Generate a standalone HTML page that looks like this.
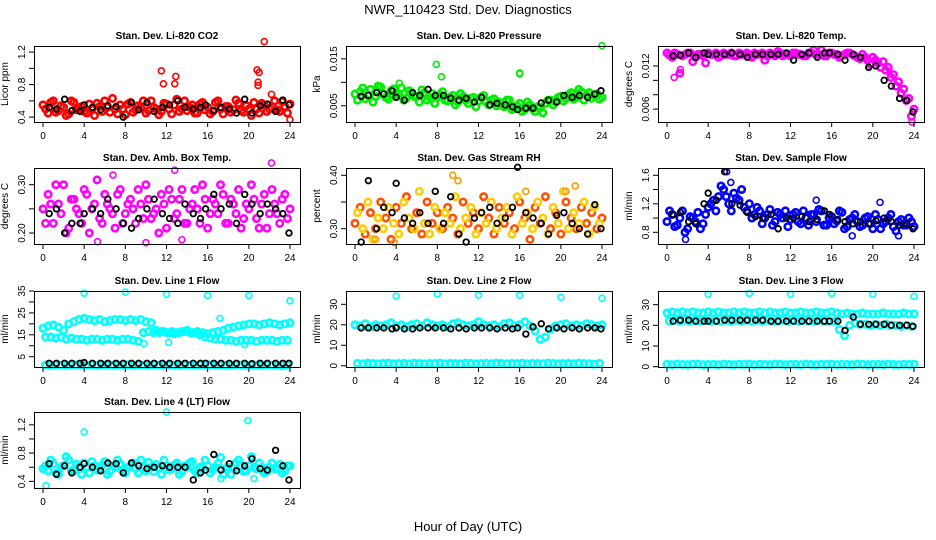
<!DOCTYPE html>
<html><head><meta charset="utf-8"><style>
body{margin:0;background:#fff}
svg{display:block;font-family:"Liberation Sans",sans-serif}
</style></head><body>
<svg id="c" width="936" height="540" viewBox="0 0 936 540" xmlns="http://www.w3.org/2000/svg">
<text x="468" y="14" font-size="13" text-anchor="middle">NWR_110423  Std. Dev. Diagnostics</text>
<text x="468" y="531" font-size="13" text-anchor="middle">Hour of Day (UTC)</text>
</svg>
<script>
const hoursA = Array.from({length:49},(_, i)=>i*0.5);
const hoursB = Array.from({length:48},(_, i)=>i*0.5+0.25);
const blackHours = [0.6,1.3,2.1,2.8,3.6,4.0,4.8,5.6,6.3,7.1,7.8,8.6,9.3,10.1,10.8,11.6,12.3,13.1,13.8,14.6,15.3,15.8,16.6,17.3,18.1,18.8,19.6,20.3,21.1,21.8,22.6,23.3,23.9];
const xTicks = [0,4,8,12,16,20,24];

const co2A=[0.55,0.45,0.6,0.48,0.52,0.44,0.58,0.5,0.47,0.56,0.42,0.53,0.6,0.46,0.5,0.55,0.43,0.58,0.49,0.52,0.45,0.6,0.5,0.47,0.56,0.44,0.62,0.5,0.48,0.55,0.45,0.58,0.52,0.47,0.6,0.44,0.53,0.49,0.57,0.46,0.5,0.58,0.45,0.55,0.5,0.6,0.47,0.53,0.56];
const co2B=[0.5,0.58,0.46,0.54,0.42,0.6,0.49,0.53,0.45,0.5,0.57,0.47,0.52,0.63,0.44,0.5,0.56,0.46,0.54,0.6,0.48,0.52,0.43,0.57,0.5,0.55,0.47,0.6,0.52,0.45,0.56,0.49,0.44,0.58,0.5,0.53,0.46,0.61,0.48,0.54,0.42,0.5,0.57,0.47,0.52,0.49,0.59,0.45];
const co2Out=[[11.5,0.97],[11.7,0.81],[12.9,0.9],[12.8,0.81],[20.8,0.98],[21,0.95],[20.9,0.83],[20.9,0.79],[21.5,1.33],[22.2,0.68],[24,0.37]];
const co2Black=[0.52,0.5,0.62,0.48,0.47,0.55,0.52,0.49,0.54,0.53,0.4,0.58,0.49,0.58,0.47,0.52,0.55,0.6,0.52,0.5,0.52,0.55,0.48,0.52,0.5,0.45,0.62,0.45,0.54,0.56,0.47,0.61,0.55];

const presA=[0.0075,0.008,0.0065,0.0085,0.007,0.009,0.0068,0.0082,0.0072,0.0088,0.0066,0.0078,0.007,0.0084,0.0062,0.0076,0.0068,0.008,0.006,0.0072,0.0058,0.007,0.0055,0.0068,0.006,0.0072,0.0052,0.0065,0.0058,0.0048,0.0062,0.0045,0.0055,0.0042,0.0052,0.0038,0.0046,0.0055,0.0062,0.0058,0.007,0.0065,0.0078,0.0068,0.008,0.0072,0.0066,0.0075,0.0068];
const presB=[0.0062,0.0088,0.0072,0.0058,0.0092,0.0075,0.0064,0.0086,0.0074,0.0062,0.0082,0.007,0.0058,0.0078,0.0068,0.0055,0.0074,0.0062,0.0068,0.0052,0.0076,0.0062,0.0066,0.0048,0.0068,0.0058,0.0062,0.005,0.0056,0.0062,0.0042,0.005,0.0038,0.0058,0.0044,0.0048,0.0035,0.0062,0.0052,0.0068,0.006,0.0074,0.0064,0.0085,0.0062,0.0078,0.0072,0.0064];
const presOut=[[4.3,0.0098],[7.9,0.0138],[8.4,0.0112],[16,0.012],[16,0.0118],[24,0.0178]];
const presBlack=[0.007,0.0072,0.0078,0.0075,0.0082,0.0068,0.0062,0.0078,0.0072,0.0085,0.0072,0.0072,0.0066,0.0062,0.0066,0.0058,0.0068,0.0052,0.0055,0.0052,0.0048,0.0042,0.0045,0.0045,0.0056,0.0062,0.0058,0.0072,0.0068,0.0072,0.0068,0.0075,0.0082];

const tempA=[0.0138,0.0132,0.0136,0.0134,0.0138,0.0126,0.0136,0.0134,0.0138,0.0136,0.0132,0.0138,0.0136,0.0134,0.0138,0.0136,0.0134,0.0138,0.0136,0.0128,0.0138,0.0134,0.0138,0.0136,0.0134,0.0138,0.0136,0.0134,0.0138,0.0136,0.0142,0.0134,0.0138,0.0136,0.0134,0.0138,0.0136,0.0132,0.0136,0.0128,0.0132,0.0124,0.0126,0.0118,0.0108,0.0098,0.0088,0.0075,0.006];
const tempB=[0.0135,0.0138,0.011,0.0136,0.0138,0.0132,0.0136,0.0124,0.0136,0.0138,0.0134,0.0136,0.0138,0.0134,0.0136,0.0138,0.0132,0.0136,0.0138,0.0134,0.0136,0.014,0.0134,0.0136,0.0138,0.0136,0.0134,0.0138,0.0142,0.0136,0.0134,0.0138,0.0136,0.0132,0.0136,0.0138,0.0134,0.013,0.0132,0.0122,0.0128,0.0118,0.0114,0.0104,0.0092,0.0082,0.0072,0.005];
const tempOut=[[0.7,0.0104],[1.3,0.0115],[23.8,0.0042]];
const tempBlack=[0.0134,0.0135,0.0138,0.0132,0.0138,0.0136,0.0136,0.0136,0.0138,0.0136,0.0132,0.0136,0.0136,0.0136,0.0136,0.0138,0.0128,0.0136,0.0138,0.0132,0.0138,0.0138,0.0136,0.0128,0.0136,0.0132,0.0118,0.012,0.01,0.0092,0.0075,0.0072,0.0056];

const boxA=[0.25,0.28,0.22,0.26,0.3,0.21,0.27,0.24,0.29,0.2,0.26,0.23,0.28,0.25,0.21,0.29,0.24,0.27,0.22,0.26,0.3,0.23,0.25,0.28,0.21,0.27,0.24,0.29,0.22,0.26,0.25,0.3,0.21,0.27,0.24,0.28,0.22,0.26,0.29,0.23,0.25,0.27,0.21,0.28,0.24,0.26,0.22,0.28,0.25];
const boxB=[0.22,0.26,0.3,0.24,0.2,0.27,0.25,0.22,0.28,0.25,0.31,0.22,0.26,0.24,0.28,0.22,0.26,0.25,0.29,0.23,0.27,0.24,0.2,0.26,0.29,0.23,0.27,0.22,0.25,0.29,0.22,0.27,0.24,0.26,0.3,0.22,0.27,0.24,0.21,0.26,0.3,0.23,0.26,0.21,0.29,0.24,0.27,0.23];
const boxOut=[[5.3,0.182],[6.8,0.32],[10,0.18],[12.8,0.33],[13.5,0.186],[22.2,0.345]];
const boxBlack=[0.24,0.25,0.2,0.22,0.22,0.24,0.25,0.24,0.27,0.25,0.22,0.21,0.23,0.25,0.27,0.24,0.23,0.22,0.26,0.24,0.23,0.25,0.28,0.25,0.26,0.22,0.28,0.26,0.24,0.26,0.25,0.24,0.2];

const rhA=[0.31,0.34,0.29,0.33,0.3,0.35,0.32,0.28,0.34,0.31,0.36,0.3,0.33,0.29,0.35,0.31,0.33,0.3,0.34,0.32,0.29,0.35,0.31,0.33,0.3,0.36,0.32,0.29,0.34,0.31,0.33,0.3,0.35,0.32,0.28,0.34,0.31,0.36,0.3,0.33,0.29,0.35,0.32,0.3,0.34,0.31,0.33,0.3,0.32];
const rhB=[0.33,0.3,0.35,0.28,0.32,0.3,0.34,0.31,0.29,0.35,0.32,0.3,0.37,0.31,0.29,0.34,0.3,0.33,0.31,0.36,0.3,0.32,0.34,0.29,0.33,0.31,0.35,0.3,0.32,0.34,0.29,0.36,0.31,0.33,0.3,0.35,0.32,0.29,0.34,0.31,0.37,0.3,0.33,0.31,0.35,0.29,0.34,0.31];
const rhOut=[[2,0.28],[3.8,0.274],[9.5,0.40],[10,0.39],[16.6,0.37],[20.5,0.37],[21.4,0.38]];
const rhBlack=[0.275,0.39,0.3,0.34,0.33,0.385,0.32,0.31,0.33,0.31,0.37,0.31,0.36,0.29,0.275,0.32,0.33,0.34,0.31,0.32,0.34,0.415,0.33,0.32,0.31,0.29,0.325,0.33,0.31,0.3,0.29,0.345,0.3];

const flowA=[0.95,1.05,0.9,1.1,0.85,1.0,1.08,0.92,1.15,1.25,1.3,1.4,1.2,1.35,1.25,1.15,1.2,1.05,1.1,1.0,1.12,0.95,1.05,1.1,0.98,1.08,0.92,1.0,1.05,0.95,1.1,0.9,1.02,0.96,1.08,0.88,1.0,0.95,0.9,1.02,0.85,0.98,0.92,1.0,0.88,0.95,0.9,1.0,0.88];
const flowB=[1.1,0.88,1.0,0.8,1.02,0.95,0.85,1.05,1.2,1.1,1.45,1.3,1.1,1.28,1.4,1.1,1.0,1.15,0.92,1.05,0.9,1.08,1.0,0.88,1.05,0.95,1.1,0.9,1.05,1.12,0.9,1.0,0.92,1.1,0.85,0.98,1.05,0.88,1.0,0.92,1.05,0.85,0.95,1.05,0.82,0.98,0.9,0.95];
const flowOut=[[1.8,0.7],[5.8,1.65],[6.2,1.5],[14.5,1.25],[18,0.75],[20.7,1.22],[22.5,0.75]];
const flowBlack=[1.05,1.08,0.95,0.92,1.2,1.35,1.25,1.65,1.2,1.18,1.08,1.02,1.0,1.05,0.85,1.0,1.0,1.02,0.95,0.98,1.1,1.05,0.98,0.95,0.92,0.95,0.92,0.96,1.0,0.95,0.9,0.92,0.85];

const l1Upper=[18,19,19.5,18.5,17,20,21,22,22.5,22,21.5,22,21,21.5,22,22,21.5,22,21.5,22,21,20.5,17,16.5,16,16.5,16,16.5,17,16,16.5,16,15.5,16,16.5,17,18,18.5,19,19.5,20,20,19.5,20,20.5,20,19.5,20,20.5];
const l1Lower=[14,14,13.5,14,13,13.5,13,13,12.5,13,13,12.5,13,13,12.5,13,13,12.5,12,16,16.5,16,16,16.5,16,15.5,16,16.5,16,16,15,14,13.5,13,13,12.5,12.5,12,12.5,12.5,12.5,12,12.5,12.5,12.5,12,12.5,12.5];
const l1Out=[[4,34],[8,34.5],[12,33.5],[16,33],[17.2,22.5],[19.6,10.5],[20,33],[24,30.5],[12.2,11.5],[9.8,11]];
const l1Black=[2,2,2,2,2,2.3,2,2,2,2,2,2,2,2,2,2,2,2,2,2,2,2,2,2,2,2,2,1.8,2,2,2,2,2];

const l2Band=[20,19.5,20.5,19,20,19.5,20,21,19.5,20,19,20,20.5,19.5,21,20,19.5,20,19,20.5,21,20,19.5,20,21.5,20,19.5,20,19,20.5,21,19.5,20,21.5,19.5,17,13,14,18,19.5,20,20.5,19.5,20,19.5,20.5,20,19.5,20];
const l2Bottom=[1.2,1,1.3,1.1,1,1.2,1.3,1,1.1,1.2,1,1.3,1.1,1,1.2,1.1,1.3,1,1.2,1.1,1,1.3,1.2,1,1.1,1.2,1,1.3,1.1,1,1.2,1.1,1.3,1,1.2,1.1,1,1.3,1.2,1,1.1,1.2,1,1.3,1.1,1,0.8,1.2];
const l2Out=[[4,34],[8,35],[12,34.5],[16,34.5],[20,33.5],[24,33]];
const l2Black=[18.5,18.5,18.5,18.5,18,18.5,18,18,18.5,18.5,18.5,18.5,18,18.5,18,18.5,18.5,18.5,18,18.5,18,18.5,15.5,19,20.5,18,18.5,18,18.5,18,18.5,18.5,18];

const l3Upper=[26,26.5,26,26.5,26,26.5,26,26,26.5,26,26.5,26,26,26.5,26,26.5,26,26,26.5,26,26.5,26,26,26.5,26,26,26.5,26,26,26.5,26,26,26.5,26,25.5,26,25.5,25.5,26,25.5,25.5,25.5,26,25.5,25.5,25.5,26,25.5,25.5];
const l3Mid=[22,22.5,22,22.5,22,22.5,22,22.5,22,22.5,22,22.5,22,22.5,22,22.5,22,22.5,22,22.5,22,22,22.5,22,22.5,22,22.5,22,22,22.5,22,22,22,18,15,20,21,20.5,20.5,20,20.5,20,20.5,20,20,19.5,20,19.5];
const l3Bottom=[1.2,1,1.3,1.1,1,1.2,1.3,1,1.1,1.2,1,1.3,1.1,1,1.2,1.1,1.3,1,1.2,1.1,1,1.3,1.2,1,1.1,1.2,1,1.3,1.1,1,1.2,1.1,1.3,1,1.2,1.1,1,1.3,1.2,1,1.1,1.2,1,1.3,1.1,1,1.2,1.1,1.2];
const l3Out=[[4,35],[8,35.5],[12,35],[16,35.5],[20,35],[24,34]];
const l3Black=[22,22.5,22.5,22,22,22,22,22.5,22.5,22.5,22.5,22.5,22.5,22,22,22,22,22,22,22,22,22,22,17.5,24,20.5,20.5,20.5,20.5,20,20,20,19.5];

const l4A=[0.58,0.55,0.65,0.5,0.62,0.7,0.55,0.6,0.66,0.52,0.62,0.58,0.68,0.54,0.6,0.65,0.52,0.62,0.58,0.7,0.55,0.6,0.64,0.5,0.62,0.58,0.66,0.54,0.6,0.68,0.52,0.6,0.62,0.56,0.65,0.5,0.6,0.58,0.7,0.54,0.62,0.6,0.66,0.52,0.6,0.58,0.64,0.55,0.62];
const l4B=[0.62,0.7,0.52,0.6,0.75,0.55,0.64,0.5,0.6,0.68,0.56,0.63,0.5,0.62,0.7,0.55,0.6,0.66,0.52,0.6,0.67,0.54,0.6,0.7,0.56,0.63,0.5,0.62,0.66,0.55,0.6,0.7,0.52,0.6,0.74,0.58,0.5,0.66,0.62,0.55,0.75,0.58,0.6,0.54,0.66,0.58,0.52,0.62];
const l4Out=[[0.3,0.34],[4,1.1],[12,1.38],[19.9,1.26],[17.3,0.44],[20.5,0.44]];
const l4Black=[0.65,0.5,0.62,0.52,0.6,0.65,0.6,0.55,0.66,0.65,0.52,0.66,0.62,0.58,0.6,0.62,0.6,0.6,0.6,0.42,0.52,0.56,0.78,0.56,0.65,0.55,0.62,0.72,0.58,0.56,0.84,0.62,0.42];

const panels=[
 {name:'co2',title:'Stan. Dev. Li-820 CO2',ylab:'Licor ppm',col:0,row:0,ymin:0.34,ymax:1.275,ticks:[0.4,0.6,0.8,1.0,1.2],labels:[0.4,0.8,1.2],dec:1,series:[[hoursA,co2A,'#ff0000'],[hoursB,co2B,'#ff0000']],out:[co2Out,'#ff0000'],black:co2Black},
 {name:'pressure',title:'Stan. Dev. Li-820 Pressure',ylab:'kPa',col:1,row:0,ymin:0.00154,ymax:0.01774,ticks:[0.005,0.01,0.015],labels:[0.005,0.015],dec:3,series:[[hoursA,presA,'#00ee00'],[hoursB,presB,'#00ee00']],out:[presOut,'#00ee00'],black:presBlack},
 {name:'temp',title:'Stan. Dev. Li-820 Temp.',ylab:'degrees C',col:2,row:0,ymin:0.00421,ymax:0.01477,ticks:[0.006,0.008,0.010,0.012],labels:[0.006,0.012],dec:3,series:[[hoursA,tempA,'#ff00ff'],[hoursB,tempB,'#ff00ff']],out:[tempOut,'#ff00ff'],black:tempBlack},
 {name:'box-temp',title:'Stan. Dev. Amb. Box Temp.',ylab:'degrees C',col:0,row:1,ymin:0.1772,ymax:0.3346,ticks:[0.2,0.25,0.3],labels:[0.2,0.3],dec:2,series:[[hoursA,boxA,'#ff00ff'],[hoursB,boxB,'#ff00ff']],out:[boxOut,'#ff00ff'],black:boxBlack},
 {name:'rh',title:'Stan. Dev. Gas Stream RH',ylab:'percent',col:1,row:1,ymin:0.2713,ymax:0.4137,ticks:[0.3,0.35,0.4],labels:[0.3,0.4],dec:2,series:[[hoursA,rhA,'#ff5000'],[hoursB,rhB,'#ffcc00']],out:[rhOut,'#ff9900'],black:rhBlack},
 {name:'sample-flow',title:'Stan. Dev. Sample Flow',ylab:'ml/min',col:2,row:1,ymin:0.636,ymax:1.702,ticks:[0.8,1.0,1.2,1.4,1.6],labels:[0.8,1.2,1.6],dec:1,series:[[hoursA,flowA,'#0000ff'],[hoursB,flowB,'#0000ff']],out:[flowOut,'#0000ff'],black:flowBlack},
 {name:'line1',title:'Stan. Dev. Line 1 Flow',ylab:'ml/min',col:0,row:2,ymin:0.3,ymax:35,ticks:[5,10,15,20,25,30,35],labels:[5,15,25,35],dec:0,series:[[hoursA,l1Upper,'#00ffff'],[hoursB,l1Lower,'#00ffff'],[hoursB,l2Bottom,'#00ffff']],out:[l1Out,'#00ffff'],black:l1Black},
 {name:'line2',title:'Stan. Dev. Line 2 Flow',ylab:'ml/min',col:1,row:2,ymin:-0.6,ymax:36.5,ticks:[0,10,20,30],labels:[0,10,20,30],dec:0,series:[[hoursA,l2Band,'#00ffff'],[hoursB,l2Bottom,'#00ffff']],out:[l2Out,'#00ffff'],black:l2Black},
 {name:'line3',title:'Stan. Dev. Line 3 Flow',ylab:'ml/min',col:2,row:2,ymin:-0.15,ymax:36.6,ticks:[0,10,20,30],labels:[0,10,20,30],dec:0,series:[[hoursA,l3Upper,'#00ffff'],[hoursB,l3Mid,'#00ffff'],[hoursA,l3Bottom,'#00ffff']],out:[l3Out,'#00ffff'],black:l3Black},
 {name:'line4',title:'Stan. Dev. Line 4 (LT) Flow',ylab:'ml/min',col:0,row:3,ymin:0.306,ymax:1.3815,ticks:[0.4,0.6,0.8,1.0,1.2],labels:[0.4,0.8,1.2],dec:1,series:[[hoursA,l4A,'#00ffff'],[hoursB,l4B,'#00ffff']],out:[l4Out,'#00ffff'],black:l4Black}
];

const NS='http://www.w3.org/2000/svg';
const svg=document.getElementById('c');
const colLeft=[34,346,658], rowTop=[46,168,291,412], W=266, H=76;
function mk(tag,attrs,parent){const e=document.createElementNS(NS,tag);for(const k in attrs)e.setAttribute(k,attrs[k]);parent.appendChild(e);return e;}

panels.forEach(p=>{
  const L=colLeft[p.col], T=rowTop[p.row];
  const xs=h=>L+9+h/24*247;
  const ys=v=>T+H-(v-p.ymin)/(p.ymax-p.ymin)*H;
  const g=mk('g',{},svg);
  
  
  const t=mk('text',{x:L+W/2,y:T-7,'font-size':10,'font-weight':'bold','text-anchor':'middle'},g);
  
  
  t.textContent=p.title;
  const yl=mk('text',{transform:`translate(${L-26},${T+H/2}) rotate(-90)`,'font-size':10,'text-anchor':'middle'},g);
  
  
  yl.textContent=p.ylab;
  const pts=mk('g',{fill:'none'},g);
  
  
  p.series.forEach(s=>{
    s[0].forEach((h,i)=>{ if(s[1][i]===undefined) return;
      const c=mk('circle',{cx:xs(h),cy:ys(s[1][i]),r:3.2,stroke:s[2],'stroke-width':2.6},pts);
      
      
    });
  });
  p.out[0].forEach(o=>{
    const c=mk('circle',{cx:xs(o[0]),cy:ys(o[1]),r:3,stroke:p.out[1],'stroke-width':1.6},pts);
    
    
  });
  blackHours.forEach((h,i)=>{
    const c=mk('circle',{cx:xs(h),cy:ys(p.black[i]),r:2.8,stroke:'#000','stroke-width':1.8},pts);
    
    
  });
  const box=mk('rect',{x:L+0.5,y:T+0.5,width:W,height:H,fill:'none',stroke:'#000','stroke-width':1},g);
  
  
  xTicks.forEach(v=>{
    const x=xs(v);
    const tk=mk('line',{x1:x,x2:x,y1:T+H,y2:T+H+5,stroke:'#000'},g);
    
    
    const tl=mk('text',{x:x,y:T+H+17,'font-size':10,'text-anchor':'middle'},g);
    
    
    tl.textContent=v;
  });
  p.ticks.forEach(v=>{
    const y=ys(v);
    const tk=mk('line',{x1:L-5,x2:L,y1:y,y2:y,stroke:'#000'},g);
    
    
  });
  p.labels.forEach(v=>{
    const y=ys(v);
    const tl=mk('text',{transform:`translate(${L-9},${y}) rotate(-90)`,'font-size':10,'text-anchor':'middle'},g);
    
    
    tl.textContent=v.toFixed(p.dec);
  });
});
</script>
</body></html>
